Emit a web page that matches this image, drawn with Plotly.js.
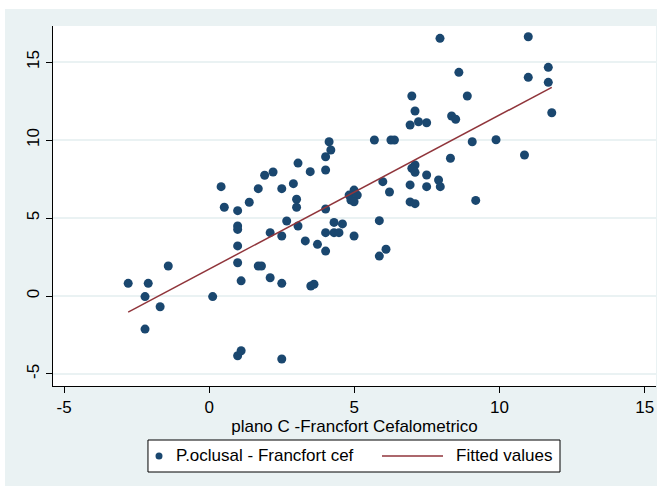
<!DOCTYPE html>
<html>
<head>
<meta charset="utf-8">
<script src="https://cdn.plot.ly/plotly-3.0.1.min.js"></script>
<style>
  html, body { margin: 0; padding: 0; background: #ffffff; width: 657px; height: 486px; overflow: hidden; }
  #chart { position: absolute; left: 5px; top: 9px; width: 652px; height: 477px; }
</style>
</head>
<body>
<div id="chart"></div>
<script>
// Scatter data: plano C - Francfort Cefalometrico (x) vs P.oclusal - Francfort cef (y)
const planoC = [
  -2.79, -2.10, -2.21, -1.69, -1.41, -2.21, 0.12, 0.41, 0.52, 0.98,
  0.98, 0.98, 0.98, 0.98, 1.10, 0.98, 1.10, 1.38, 1.69, 1.91,
  2.20, 2.50, 2.90, 3.06, 3.01, 3.01, 2.67, 3.06, 2.10, 2.50,
  1.69, 1.80, 2.10, 2.50, 2.50, 4.13, 4.19, 4.01, 3.48, 4.01,
  4.01, 3.31, 3.73, 4.01, 4.01, 4.30, 4.30, 4.47, 4.59, 4.99,
  3.50, 3.61, 4.82, 4.99, 5.10, 4.88, 4.99, 5.69, 6.26, 6.38,
  5.98, 6.21, 5.86, 5.86, 6.09, 6.92, 7.21, 7.49, 7.09, 6.98,
  7.09, 7.49, 6.92, 6.92, 7.09, 7.49, 7.90, 7.96, 8.31, 9.06,
  9.18, 7.95, 10.99, 8.60, 11.68, 10.99, 11.68, 8.89, 6.98, 7.09,
  8.35, 8.49, 9.88, 11.80, 10.86
];
const pOclusal = [
  0.81, 0.81, -0.04, -0.69, 1.92, -2.12, -0.04, 7.01, 5.69, 5.47,
  4.49, 4.27, 3.21, 2.13, 0.97, -3.83, -3.51, 6.01, 6.88, 7.74,
  7.95, 6.88, 7.20, 8.52, 6.20, 5.69, 4.81, 4.49, 4.06, 3.85,
  1.92, 1.92, 1.17, 0.81, -4.04, 9.89, 9.36, 8.93, 7.97, 8.08,
  5.58, 3.53, 3.31, 2.88, 4.06, 4.72, 4.06, 4.06, 4.62, 3.85,
  0.64, 0.75, 6.47, 6.79, 6.47, 6.15, 6.04, 10.00, 10.00, 10.00,
  7.33, 6.67, 4.83, 2.56, 3.00, 10.96, 11.17, 11.11, 8.40, 8.19,
  7.93, 7.76, 7.12, 6.03, 5.92, 7.01, 7.44, 7.01, 8.83, 9.89,
  6.13, 16.52, 16.62, 14.34, 14.66, 14.02, 13.70, 12.82, 12.82, 11.86,
  11.54, 11.33, 10.02, 11.75, 9.04
];
// Fitted values line (read endpoints)
const fitX = [-2.79, 11.80];
const fitY = [-1.03, 13.38];

const xTicks = [-5, 0, 5, 10, 15];
const yTicks = [-5, 0, 5, 10, 15];
const seriesNames = ["P.oclusal - Francfort cef", "Fitted values"];

const FONT = "Liberation Sans, Arial, Helvetica, sans-serif";
const BG = "#eaf2f3";
const NAVY = "#1a476f";
const MAROON = "#90353b";

const traces = [
  {
    type: "scatter", mode: "markers",
    x: planoC, y: pOclusal, name: seriesNames[0],
    marker: { color: NAVY, size: 9, line: { width: 0 } }
  },
  {
    type: "scatter", mode: "lines",
    x: fitX, y: fitY, name: seriesNames[1],
    line: { color: MAROON, width: 1.5 }
  }
];

// Legend drawn as a Stata-style box below the plot (paper coordinates)
const legY = -0.1944;
const legendShapes = [
  { type: "rect", xref: "paper", yref: "paper", x0: 0.1575, x1: 0.8408, y0: -0.2389, y1: -0.15,
    fillcolor: "#ffffff", line: { color: "#000000", width: 1 } },
  { type: "circle", xref: "paper", yref: "paper", xsizemode: "pixel", ysizemode: "pixel",
    xanchor: 0.1758, yanchor: legY, x0: -3.5, x1: 3.5, y0: -3.5, y1: 3.5,
    fillcolor: NAVY, line: { width: 0 } },
  { type: "line", xref: "paper", yref: "paper", x0: 0.5456, x1: 0.6468, y0: legY, y1: legY,
    line: { color: MAROON, width: 1.5 } }
];
const legendLabels = [
  { xref: "paper", yref: "paper", x: 0.2007, y: legY, xanchor: "left", yanchor: "middle",
    text: seriesNames[0], showarrow: false, font: { family: FONT, size: 17, color: "#000000" } },
  { xref: "paper", yref: "paper", x: 0.665, y: legY, xanchor: "left", yanchor: "middle",
    text: seriesNames[1], showarrow: false, font: { family: FONT, size: 17, color: "#000000" } }
];

const layout = {
  width: 652, height: 477,
  margin: { l: 48, r: 1, t: 17, b: 100, pad: 0 },
  paper_bgcolor: BG, plot_bgcolor: "#ffffff",
  font: { family: FONT, size: 17, color: "#000000" },
  showlegend: false,
  xaxis: {
    range: [-5.38, 15.39], tickvals: xTicks, ticktext: xTicks.map(String),
    ticks: "outside", ticklen: 6, tickwidth: 1, tickcolor: "#000000",
    showline: true, linecolor: "#000000", linewidth: 1,
    showgrid: false, zeroline: false,
    tickfont: { family: FONT, size: 17, color: "#000000" },
    title: { text: "plano C -Francfort Cefalometrico", font: { family: FONT, size: 17, color: "#000000" }, standoff: 2 }
  },
  yaxis: {
    range: [-5.77, 17.31], tickvals: yTicks, ticktext: yTicks.map(String),
    tickangle: -90,
    ticks: "outside", ticklen: 6, tickwidth: 1, tickcolor: "#000000",
    showline: true, linecolor: "#000000", linewidth: 1,
    showgrid: true, gridcolor: BG, gridwidth: 1.2, zeroline: false,
    tickfont: { family: FONT, size: 17, color: "#000000" }
  },
  shapes: legendShapes,
  annotations: legendLabels
};

Plotly.newPlot("chart", traces, layout, { displayModeBar: false, staticPlot: true });
</script>
</body>
</html>
